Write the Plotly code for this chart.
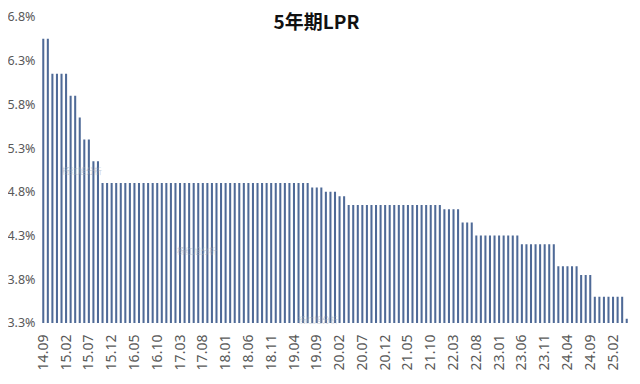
import plotly.graph_objects as go

# Monthly categories 2014.09 .. 2025.05
months = []
y, m = 14, 9
while (y, m) <= (25, 5):
    months.append(f"{y:02d}.{m:02d}")
    m += 1
    if m > 12:
        m = 1
        y += 1

lpr_5y = [
    6.55, 6.55,
    6.15, 6.15, 6.15, 6.15,
    5.90, 5.90,
    5.65,
    5.40, 5.40,
    5.15, 5.15,
    4.90, 4.90, 4.90, 4.90, 4.90, 4.90, 4.90, 4.90, 4.90, 4.90,
    4.90, 4.90, 4.90, 4.90, 4.90, 4.90, 4.90, 4.90, 4.90, 4.90,
    4.90, 4.90, 4.90, 4.90, 4.90, 4.90, 4.90, 4.90, 4.90, 4.90,
    4.90, 4.90, 4.90, 4.90, 4.90, 4.90, 4.90, 4.90, 4.90, 4.90,
    4.90, 4.90, 4.90, 4.90, 4.90, 4.90,
    4.85, 4.85, 4.85,
    4.80, 4.80, 4.80,
    4.75, 4.75,
    4.65, 4.65, 4.65, 4.65, 4.65, 4.65, 4.65, 4.65, 4.65, 4.65,
    4.65, 4.65, 4.65, 4.65, 4.65, 4.65, 4.65, 4.65, 4.65, 4.65, 4.65,
    4.60, 4.60, 4.60, 4.60,
    4.45, 4.45, 4.45,
    4.30, 4.30, 4.30, 4.30, 4.30, 4.30, 4.30, 4.30, 4.30, 4.30,
    4.20, 4.20, 4.20, 4.20, 4.20, 4.20, 4.20, 4.20,
    3.95, 3.95, 3.95, 3.95, 3.95,
    3.85, 3.85, 3.85,
    3.60, 3.60, 3.60, 3.60, 3.60, 3.60, 3.60,
    3.35,
]

x_tick_labels = ["14.09", "15.02", "15.07", "15.12", "16.05", "16.10", "17.03",
                 "17.08", "18.01", "18.06", "18.11", "19.04", "19.09", "20.02",
                 "20.07", "20.12", "21.05", "21.10", "22.03", "22.08", "23.01",
                 "23.06", "23.11", "24.04", "24.09", "25.02"]
y_tick_vals = [3.3, 3.8, 4.3, 4.8, 5.3, 5.8, 6.3, 6.8]
y_tick_text = ["3.3%", "3.8%", "4.3%", "4.8%", "5.3%", "5.8%", "6.3%", "6.8%"]

fig = go.Figure(go.Bar(
    x=months, y=lpr_5y,
    marker=dict(color="#4f6a97", line=dict(width=0)),
))

fig.update_layout(
    width=640, height=384,
    margin=dict(l=33, r=19, t=9, b=69, autoexpand=False),
    paper_bgcolor="white", plot_bgcolor="white",
    bargap=0.55,
    showlegend=False,
    title=dict(text="<b>5年期LPR</b>", x=0.482, xref="container", xanchor="center",
               y=1 - 14 / 384, yref="container", yanchor="middle",
               font=dict(family="Noto Sans CJK SC", size=19, color="#111111")),
    xaxis=dict(type="category", tickmode="array", tickvals=x_tick_labels,
               ticktext=x_tick_labels, tickangle=-90, automargin=False,
               ticklabeloverflow="allow",
               tickfont=dict(family="Noto Sans", size=14, color="#595959"),
               ticks="outside", ticklen=5, tickcolor="rgba(0,0,0,0)",
               showgrid=False, showline=False, range=[-0.5, len(months) - 0.5]),
    yaxis=dict(range=[3.3, 6.8], tickmode="array", tickvals=y_tick_vals,
               ticktext=y_tick_text, automargin=False,
               ticklabeloverflow="allow",
               tickfont=dict(family="Noto Sans", size=12.5, color="#595959"),
               ticks="outside", ticklen=2, tickcolor="rgba(0,0,0,0)",
               showgrid=False, zeroline=False, showline=False),
)

for wx, wy in [(60, 170), (175, 258), (318, 327)]:
    fig.add_annotation(text="杨红旭分析", xref="paper", yref="paper",
                       x=(wx - 41) / 588, y=(323 - wy) / 306, showarrow=False,
                       font=dict(family="Noto Sans CJK SC", size=8, color="rgba(160,170,185,0.6)"))

fig.write_html("out.html")
